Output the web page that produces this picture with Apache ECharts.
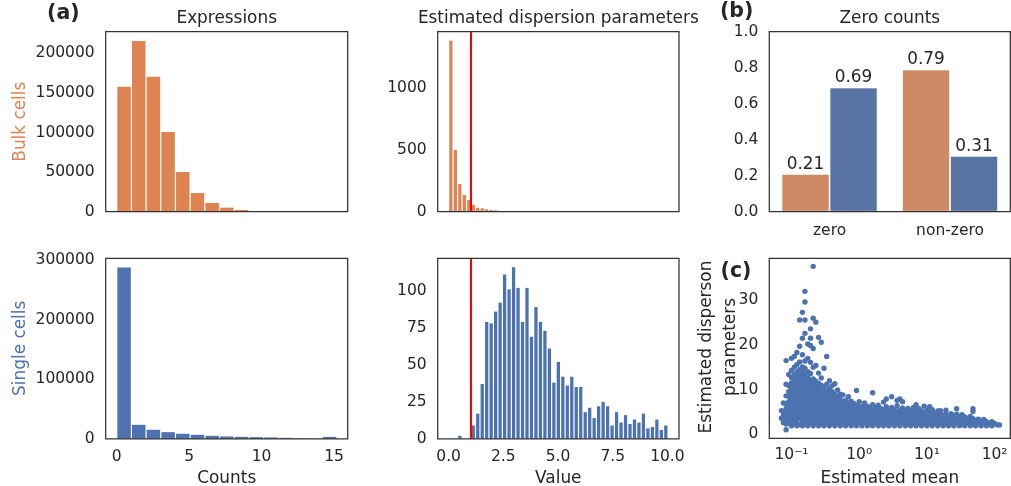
<!DOCTYPE html>
<html><head><meta charset="utf-8">
<script src="https://cdn.jsdelivr.net/npm/echarts@6/dist/echarts.min.js"></script>
<style>html,body{margin:0;padding:0;background:#fff}#c{width:1011px;height:486px}</style>
</head><body><div id="c"></div>
<script>
// ---------------- DATA ----------------
// Expression histograms (counts per bin, 15 bins spanning 0..15.2)
const countBinWidth = 15.2 / 15;
const bulkCounts = [157800, 215900, 170500, 100600, 50100, 23600, 11000, 5100, 2100, 900, 400, 200, 100, 50, 30];
const singleCounts = [288000, 23500, 15100, 11200, 8400, 6700, 5000, 3900, 3300, 2800, 2300, 1700, 700, 300, 3200];
const countTicks = [0, 5, 10, 15];
const bulkCountYTicks = [0, 50000, 100000, 150000, 200000];
const singleCountYTicks = [0, 100000, 200000, 300000];

// Dispersion histograms (bins of width 10.03/49 starting at 0)
const dispBinWidth = 10.03 / 49;
const bulkDisp = [1386, 500, 224, 135, 95, 54, 32, 28, 19, 14, 11, 6, 4, 3, 2, 2, 1, 1];
const singleDisp = [0, 0, 2, 0, 0, 9, 17, 37, 79, 78, 86, 92, 111, 101, 116, 102, 79, 102, 69, 89, 79, 73, 61, 38, 52, 42, 36, 42, 35, 35, 18, 21, 14, 22, 25, 22, 9, 18, 11, 16, 10, 13, 11, 17, 7, 8, 13, 6, 9];
const dispThreshold = 1;
const dispXTicks = [0, 2.5, 5, 7.5, 10];
const bulkDispYTicks = [0, 500, 1000];
const singleDispYTicks = [0, 25, 50, 75, 100];

// Zero counts
const zeroCats = ['zero', 'non-zero'];
const bulkZeroFrac = [0.21, 0.79];
const singleZeroFrac = [0.69, 0.31];

// Scatter, read column by column: estimated mean of the column and the dispersions seen there
const scatterMeans = [0.071, 0.0759, 0.0832, 0.0912, 0.100, 0.110, 0.120, 0.132, 0.145, 0.158, 0.174, 0.191, 0.209, 0.229, 0.251, 0.275, 0.302, 0.331, 0.363, 0.398, 0.437, 0.479, 0.525, 0.575, 0.631, 0.692, 0.759, 0.832, 0.912, 1.00, 1.10, 1.20, 1.32, 1.45, 1.58, 1.74, 1.91, 2.09, 2.29, 2.51, 2.75, 3.02, 3.31, 3.63, 3.98, 4.37, 4.79, 5.25, 5.75, 6.31, 6.92, 7.59, 8.32, 9.12, 10.0, 11.0, 12.0, 13.2, 14.5, 15.8, 17.4, 19.1, 20.9, 22.9, 25.1, 27.5, 30.2, 33.1, 36.3, 39.8, 43.7, 47.9, 52.5, 57.5, 63.1, 69.2, 75.9, 83.2, 91.2, 100, 110, 118];
const scatterDisps = [
[3.6, 5.3],
[2.6, 4.1, 5.0, 7.0],
[1.0, 2.3, 3.3, 4.3, 5.8, 6.9, 8.6, 11.2, 16.5],
[2.5, 3.7, 4.9, 6.1, 7.3, 8.5, 9.6, 10.9, 13.4],
[1.9, 3.1, 4.3, 5.5, 6.7, 7.9, 9.1, 10.3, 11.5, 12.7, 14.3, 17.0],
[2.5, 3.7, 4.9, 6.1, 7.3, 8.5, 9.7, 10.9, 12.1, 13.3, 15.0, 17.4],
[1.9, 3.1, 4.3, 5.5, 6.7, 7.9, 9.1, 10.3, 11.5, 12.7, 13.9, 15.6, 18.3],
[2.2, 3.7, 4.9, 6.1, 7.3, 8.5, 9.7, 10.9, 12.1, 13.3, 14.5, 16.2, 19.7, 25.6],
[1.9, 3.1, 4.3, 5.5, 6.7, 7.9, 9.1, 10.3, 11.5, 12.7, 13.9, 15.1, 17.8, 21.5, 27.3],
[2.5, 3.7, 4.9, 6.1, 7.3, 8.5, 9.7, 10.9, 12.1, 13.3, 14.8, 16.4, 22.6, 25.6, 29.6, 32.0],
[1.9, 3.1, 4.3, 5.5, 6.7, 7.9, 9.1, 10.3, 11.5, 12.7, 14.0, 17.0, 20.2],
[2.5, 3.7, 4.9, 6.1, 7.3, 8.5, 9.7, 10.9, 12.1, 13.6, 16.1, 19.9, 21.5, 23.6],
[1.9, 3.1, 4.3, 5.5, 6.7, 7.9, 9.1, 10.3, 11.5, 12.4, 15.0, 19.2, 26.0, 37.6],
[2.5, 3.7, 4.9, 6.1, 7.3, 8.5, 9.7, 10.9, 11.9, 15.4, 25.1],
[1.9, 3.1, 4.3, 5.5, 6.7, 7.9, 9.1, 10.3, 11.4, 13.7, 21.7],
[2.5, 3.7, 4.9, 6.1, 7.3, 8.5, 9.7, 11.0, 12.6, 20.6],
[1.9, 3.1, 4.3, 5.5, 6.7, 7.9, 9.1, 10.4, 14.8],
[2.5, 3.7, 4.9, 6.1, 7.3, 8.5, 9.7, 11.2, 17.4],
[1.9, 3.1, 4.3, 5.5, 6.7, 7.9, 9.1, 10.2, 12.0],
[2.5, 3.7, 4.9, 6.1, 7.3, 8.5, 9.6, 10.9],
[1.9, 3.1, 4.3, 5.5, 6.7, 7.9, 8.9, 11.3],
[2.5, 3.7, 4.9, 6.1, 7.3, 8.4, 9.9],
[1.9, 3.1, 4.3, 5.5, 6.7, 7.8, 9.0],
[2.5, 3.7, 4.9, 6.1, 7.2, 8.8],
[1.9, 3.1, 4.3, 5.5, 6.6, 7.6],
[2.5, 3.7, 4.9, 6.1, 7.0, 8.4],
[1.9, 3.1, 4.3, 5.5, 6.7, 7.4],
[2.5, 3.7, 4.9, 6.1, 6.9],
[1.9, 3.1, 4.3, 5.5, 6.4, 9.8],
[2.5, 3.7, 4.9, 6.1, 7.3],
[1.9, 3.1, 4.3, 5.5, 6.2],
[2.5, 3.7, 4.9, 5.9, 7.0],
[1.9, 3.1, 4.3, 5.5, 6.3],
[2.5, 3.7, 4.9, 5.8],
[1.9, 3.1, 4.3, 5.3, 6.6, 9.3],
[2.5, 3.7, 4.9, 6.0],
[1.9, 3.1, 4.3, 5.4, 6.5],
[2.5, 3.7, 4.9, 5.7],
[1.9, 3.1, 4.3, 5.5, 7.2],
[2.5, 3.7, 4.9, 6.2, 7.9],
[1.9, 3.1, 4.3, 5.4],
[2.5, 3.7, 4.9, 6.0, 8.4],
[1.9, 3.1, 4.3, 5.5],
[2.5, 3.7, 4.9, 6.4, 7.6],
[1.9, 3.1, 4.3, 5.4, 7.9],
[2.5, 3.7, 4.9, 5.9, 7.3],
[1.9, 3.1, 4.3, 5.4],
[2.5, 3.7, 4.9, 5.8],
[1.9, 3.1, 4.3, 5.3],
[2.5, 3.7, 4.9, 6.0],
[1.9, 3.1, 4.3, 5.5, 6.6],
[2.5, 3.7, 4.8, 5.8],
[1.9, 3.1, 4.3, 5.2],
[2.5, 3.7, 4.8, 6.3],
[1.9, 3.1, 4.3, 5.4],
[2.5, 3.7, 4.8, 6.2],
[1.9, 3.1, 4.3, 5.5],
[2.5, 3.7, 4.7],
[1.9, 3.1, 4.2, 5.2],
[2.5, 3.7, 4.7, 5.3],
[1.9, 3.1, 4.2],
[2.5, 3.7, 4.6, 5.4],
[1.9, 3.1, 4.1],
[2.5, 3.6, 4.6],
[1.9, 3.1, 4.1],
[2.5, 3.6, 4.5, 5.7],
[1.9, 3.1, 4.0],
[2.5, 3.5, 4.4],
[1.9, 3.1, 3.9],
[2.5, 3.5],
[1.9, 3.0, 4.0],
[2.5, 3.5, 5.1, 5.7],
[1.9, 3.0],
[2.5, 3.4],
[1.9, 2.9],
[2.5, 3.3],
[1.9, 2.8],
[2.4],
[1.9, 2.8],
[2.4],
[2.1],
[2.1]
];
const meanTicks = [0.1, 1, 10, 100];
const scatterYTicks = [0, 10, 20, 30];

// ---------------- STYLE ----------------
const FONT = 'DejaVu Sans';
const TXT = '#262626';
const C_BULK = '#dd8452', C_SINGLE = '#4c72b0';
const C_BULK_BAR = '#cd8a64', C_SINGLE_BAR = '#5874a4';
const TICK_FS = 15.5, LABEL_FS = 16.9;

function histData(counts, w) { return counts.map((c, i) => [i * w, (i + 1) * w, c]); }
function histRender(color) {
  return function (params, api) {
    const a = api.coord([api.value(0), api.value(2)]);
    const b = api.coord([api.value(1), 0]);
    const gap = 0.6;
    return { type: 'rect',
      shape: { x: a[0] + gap, y: a[1], width: Math.max(0, b[0] - a[0] - 2 * gap), height: b[1] - a[1] },
      style: { fill: color } };
  };
}
function grid(left, top, width, height) {
  return { left, top, width, height, show: true, borderColor: '#333', borderWidth: 1.25, backgroundColor: 'transparent', z: 10 };
}
function axisCommon(extra) {
  return Object.assign({ axisLine: { show: false }, axisTick: { show: false }, splitLine: { show: false } }, extra);
}
function lbl(values, fmt, margin) {
  return { show: true, customValues: values, formatter: fmt, fontSize: TICK_FS, color: TXT, fontFamily: FONT, margin: margin == null ? 10 : margin };
}
const sup = { '-': '\u207B', '0': '\u2070', '1': '\u00B9', '2': '\u00B2', '3': '\u00B3' };
function powLabel(v) { const e = Math.round(Math.log10(v)); return '10' + String(e).split('').map(c => sup[c]).join(''); }

function txt(text, x, y, o) {
  o = o || {};
  return { type: 'text', x: x, y: y, rotation: o.rot || 0, z: 20,
    style: { text: text, fill: o.color || TXT, fontSize: o.size || LABEL_FS, fontFamily: FONT, fontWeight: o.bold ? 'bold' : 'normal',
      textAlign: 'center', align: 'center', textVerticalAlign: 'middle', verticalAlign: 'middle', lineHeight: o.lh } };
}

const scatterData = [];
scatterMeans.forEach((m, i) => scatterDisps[i].forEach(d => scatterData.push([m, d])));

const redLine = { silent: true, symbol: 'none', label: { show: false },
  lineStyle: { color: '#ff0000', width: 2, type: 'solid' }, data: [{ xAxis: dispThreshold }], animation: false };

const option = {
  animation: false,
  backgroundColor: '#fff',
  textStyle: { fontFamily: FONT },
  grid: [
    grid(105.7, 31.7, 242, 180),
    grid(437.7, 31.7, 241.3, 180),
    grid(769.3, 31.7, 241, 180),
    grid(105.7, 258.3, 242, 180.5),
    grid(437.7, 258.3, 241.3, 180.5),
    grid(769.3, 258.3, 241, 180)
  ],
  xAxis: [
    axisCommon({ type: 'value', gridIndex: 0, min: -0.76, max: 15.94, axisLabel: { show: false } }),
    axisCommon({ type: 'value', gridIndex: 1, min: -0.5, max: 10.53, axisLabel: { show: false } }),
    axisCommon({ type: 'category', gridIndex: 2, data: zeroCats, axisLabel: { fontSize: TICK_FS, color: TXT, fontFamily: FONT, margin: 11 } }),
    axisCommon({ type: 'value', gridIndex: 3, min: -0.76, max: 15.94, axisLabel: lbl(countTicks, v => String(v)) }),
    axisCommon({ type: 'value', gridIndex: 4, min: -0.5, max: 10.53, axisLabel: lbl(dispXTicks, v => v.toFixed(1)) }),
    axisCommon({ type: 'log', logBase: 10, gridIndex: 5, min: 0.047, max: 170.6, axisLabel: lbl(meanTicks, powLabel, 9) })
  ],
  yAxis: [
    axisCommon({ type: 'value', gridIndex: 0, min: 0, max: 227500, axisLabel: lbl(bulkCountYTicks, v => String(v), 11) }),
    axisCommon({ type: 'value', gridIndex: 1, min: 0, max: 1458, axisLabel: lbl(bulkDispYTicks, v => String(v), 11) }),
    axisCommon({ type: 'value', gridIndex: 2, min: 0, max: 1, interval: 0.2, axisLabel: { fontSize: TICK_FS, color: TXT, fontFamily: FONT, margin: 11, formatter: v => v.toFixed(1) } }),
    axisCommon({ type: 'value', gridIndex: 3, min: 0, max: 303500, axisLabel: lbl(singleCountYTicks, v => String(v), 11) }),
    axisCommon({ type: 'value', gridIndex: 4, min: 0, max: 122, axisLabel: lbl(singleDispYTicks, v => String(v), 11) }),
    axisCommon({ type: 'value', gridIndex: 5, min: -0.9, max: 39.4, axisLabel: lbl(scatterYTicks, v => String(v), 11) })
  ],
  series: [
    { type: 'custom', xAxisIndex: 0, yAxisIndex: 0, data: histData(bulkCounts, countBinWidth), encode: { x: [0, 1], y: 2 }, renderItem: histRender(C_BULK) },
    { type: 'custom', xAxisIndex: 1, yAxisIndex: 1, data: histData(bulkDisp, dispBinWidth), encode: { x: [0, 1], y: 2 }, renderItem: histRender(C_BULK), markLine: redLine },
    { type: 'bar', xAxisIndex: 2, yAxisIndex: 2, data: bulkZeroFrac, barWidth: 48, barGap: '0%',
      itemStyle: { color: C_BULK_BAR, borderColor: '#fff', borderWidth: 0.8 },
      label: { show: true, position: 'top', distance: 1, formatter: p => p.value.toFixed(2), fontSize: LABEL_FS, color: TXT, fontFamily: FONT } },
    { type: 'bar', xAxisIndex: 2, yAxisIndex: 2, data: singleZeroFrac, barWidth: 48, barGap: '0%',
      itemStyle: { color: C_SINGLE_BAR, borderColor: '#fff', borderWidth: 0.8 },
      label: { show: true, position: 'top', distance: 1, formatter: p => p.value.toFixed(2), fontSize: LABEL_FS, color: TXT, fontFamily: FONT } },
    { type: 'custom', xAxisIndex: 3, yAxisIndex: 3, data: histData(singleCounts, countBinWidth), encode: { x: [0, 1], y: 2 }, renderItem: histRender(C_SINGLE) },
    { type: 'custom', xAxisIndex: 4, yAxisIndex: 4, data: histData(singleDisp, dispBinWidth), encode: { x: [0, 1], y: 2 }, renderItem: histRender(C_SINGLE), markLine: redLine },
    { type: 'scatter', xAxisIndex: 5, yAxisIndex: 5, data: scatterData, symbolSize: 5.4, itemStyle: { color: C_SINGLE, opacity: 1 } }
  ],
  graphic: [
    txt('(a)', 63.3, 13.5, { bold: true, size: 20.5 }),
    txt('(b)', 736.7, 12, { bold: true, size: 20.5 }),
    txt('(c)', 736, 272, { bold: true, size: 20.5 }),
    txt('Expressions', 226.7, 19),
    txt('Estimated dispersion parameters', 558.3, 19),
    txt('Zero counts', 889.8, 19),
    txt('Bulk cells', 21, 121.7, { rot: Math.PI / 2, color: C_BULK }),
    txt('Single cells', 21, 348.3, { rot: Math.PI / 2, color: C_SINGLE }),
    txt('Counts', 226.7, 479),
    txt('Value', 558.3, 479),
    txt('Estimated mean', 889.8, 479),
    txt('Estimated disperson\nparameters', 719, 347, { rot: Math.PI / 2, lh: 24 })
  ]
};
const chart = echarts.init(document.getElementById('c'), null, { renderer: 'canvas' });
chart.setOption(option);
</script></body></html>
